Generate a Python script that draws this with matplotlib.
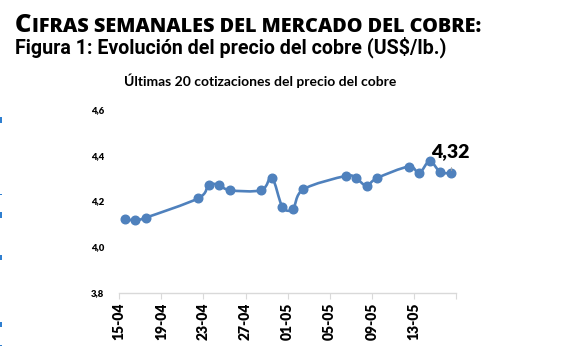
import matplotlib
matplotlib.use("Agg")
import matplotlib.pyplot as plt
import numpy as np
import pandas as pd
from matplotlib.path import Path
from matplotlib.patches import PathPatch, Rectangle

# ---- data ----
dates = ["2025-04-15", "2025-04-16", "2025-04-17", "2025-04-22", "2025-04-23",
         "2025-04-24", "2025-04-25", "2025-04-28", "2025-04-29", "2025-04-30",
         "2025-05-01", "2025-05-02", "2025-05-06", "2025-05-07", "2025-05-08",
         "2025-05-09", "2025-05-12", "2025-05-13", "2025-05-14", "2025-05-15",
         "2025-05-16"]
prices = [4.121, 4.116, 4.127, 4.212, 4.270, 4.270, 4.247, 4.247, 4.302, 4.175,
          4.166, 4.251, 4.309, 4.299, 4.267, 4.300, 4.350, 4.322, 4.374, 4.326,
          4.322]
tick_dates = ["2025-04-15", "2025-04-19", "2025-04-23", "2025-04-27", "2025-05-01",
              "2025-05-05", "2025-05-09", "2025-05-13", "2025-05-17"]
tick_labels = ["15-04", "19-04", "23-04", "27-04", "01-05", "05-05", "09-05", "13-05", ""]
y_ticks = [3.8, 4.0, 4.2, 4.4, 4.6]
y_tick_labels = ["3,8", "4,0", "4,2", "4,4", "4,6"]
last_label = "4,32"

title_main = "CIFRAS SEMANALES DEL MERCADO DEL COBRE:"
title_fig = "Figura 1: Evolución del precio del cobre (US$/lb.)"
subtitle = "Últimas 20 cotizaciones del precio del cobre"

BLUE = "#4F81BD"

start = pd.Timestamp(dates[0])
x = (pd.to_datetime(dates) - start).days.values.astype(float) + 0.5
xt = (pd.to_datetime(tick_dates) - start).days.values.astype(float)
y = np.array(prices)

fig = plt.figure(figsize=(5.74, 3.54), dpi=100)
ax = fig.add_axes([119.3 / 574, 1 - 292.7 / 354, (456 - 119.3) / 574, (292.7 - 109.3) / 354])

# smoothed line (Excel-like cubic Bezier through points)
pts = np.column_stack([x, y])
verts = [pts[0]]
codes = [Path.MOVETO]
n = len(pts)
for i in range(n - 1):
    p0 = pts[i - 1] if i > 0 else pts[i]
    p1 = pts[i]
    p2 = pts[i + 1]
    p3 = pts[i + 2] if i + 2 < n else pts[i + 1]
    c1 = p1 + (p2 - p0) / 6.0
    c2 = p2 - (p3 - p1) / 6.0
    verts += [c1, c2, p2]
    codes += [Path.CURVE4] * 3
ax.add_patch(PathPatch(Path(verts, codes), facecolor="none", edgecolor=BLUE,
                       lw=1.9, capstyle="round", joinstyle="round"))
ax.plot(x, y, linestyle="none", marker="o", ms=6.2, color=BLUE, mec=BLUE)

LF = ["Lato", "DejaVu Sans"]
ax.set_xlim(xt[0], xt[-1])
ax.set_ylim(y_ticks[0], y_ticks[-1])
ax.set_xticks(xt)
ax.set_xticklabels(tick_labels, rotation=90, fontsize=10, fontweight=800, family=LF)
ax.set_yticks(y_ticks)
ax.set_yticklabels(y_tick_labels, fontsize=6.8, fontweight=800, family=LF)
ax.tick_params(axis="y", length=0, pad=11)
ax.tick_params(axis="x", length=4, width=0.8, color="#d9d9d9", pad=3)
for s in ["top", "right", "left"]:
    ax.spines[s].set_visible(False)
ax.spines["bottom"].set_color("#d9d9d9")
ax.spines["bottom"].set_linewidth(1.0)
ax.spines["bottom"].set_zorder(0)
for a in ax.patches + ax.lines:
    a.set_clip_on(False)

# data label for last point
ax.plot([x[-1], x[-1]], [y[-1] + 0.012, y[-1] + 0.028], color="#a6a6a6", lw=0.6,
        clip_on=False)
ax.annotate(last_label, (x[-1], y[-1]), xytext=(-14.5, 9), textcoords="offset points",
            fontsize=14, fontweight=800, family=LF,
            ha="left", va="bottom", color="#000000")

# titles
fig.canvas.draw()
renderer = fig.canvas.get_renderer()
tf = ["Open Sans", "DejaVu Sans"]
t1 = fig.text(15 / 574, 1 - 32 / 354, title_main[0], fontsize=18.3, fontweight=800,
              family=tf, ha="left", va="baseline")
bb = t1.get_window_extent(renderer)
fig.text(bb.x1 / 574 + 0.5 / 574, 1 - 32 / 354, title_main[1:], fontsize=14.3,
         fontweight=800, family=tf, ha="left", va="baseline")
fig.text(15 / 574, 1 - 53.5 / 354, title_fig, fontsize=14.1, fontweight="bold",
         family=["Roboto", "DejaVu Sans"], ha="left", va="baseline")
fig.text(260 / 574, 1 - 86 / 354, subtitle, fontsize=10, fontweight="bold",
         family=LF, ha="center", va="baseline")

# small blue marks at the left edge
for yy, hh in [(117, 6), (194, 1), (212, 6), (255, 5), (322, 5), (345, 1)]:
    fig.patches.append(Rectangle((0, 1 - (yy + hh) / 354), 1.5 / 574, hh / 354,
                                 transform=fig.transFigure, color="#2f7fd0", lw=0))

fig.savefig("out.png", dpi=100)
